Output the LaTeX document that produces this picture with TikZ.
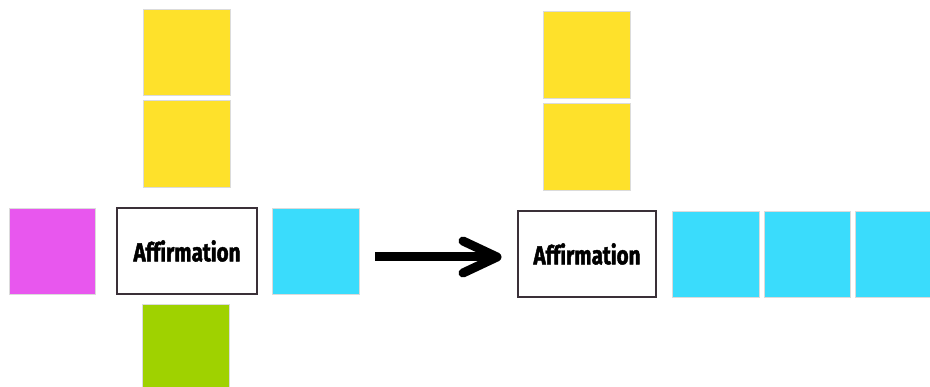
\documentclass[tikz,border=0pt]{standalone}
\usepackage{fontspec}
\newfontfamily\labelfont[FakeStretch=0.79, FakeBold=1.6, Ligatures=NoCommon]{Fira Sans}
\definecolor{stkyellow}{HTML}{FEE12B}
\definecolor{stkmagenta}{HTML}{E857EE}
\definecolor{stkcyan}{HTML}{3ADCFC}
\definecolor{stkgreen}{HTML}{9FD200}
\definecolor{boxedge}{HTML}{3A3038}
\tikzset{
  sticky/.style={draw=black!14, line width=0.7pt, inner sep=0pt, outer sep=0pt, anchor=north west, minimum width=87pt, minimum height=86pt},
  affbox/.style={draw=boxedge, line width=1.5pt, fill=white, inner sep=0pt, outer sep=0pt, anchor=north west, minimum height=86pt, font=\labelfont\bfseries\fontsize{26}{26}\selectfont},
  bigarrow/.style={line width=9pt, line join=round}
}
\begin{document}
\begin{tikzpicture}[x=1pt,y=-1pt]
\useasboundingbox (0,0) rectangle (930,387);
\fill[white] (0,0) rectangle (930,387);
% left group
\node[sticky, fill=stkyellow] (yL1) at (143,9) {};
\node[sticky, fill=stkyellow, minimum height=87pt] (yL2) at (143,100) {};
\node[sticky, fill=stkmagenta, minimum width=86pt] (mL) at (9,208) {};
\node[affbox, minimum width=140pt] (boxL) at (117,208) {Affirmation};
\node[sticky, fill=stkcyan] (cL) at (272,208) {};
\node[sticky, fill=stkgreen] (gL) at (142,304) {};
% right group
\node[sticky, fill=stkyellow, minimum height=87pt] (yR1) at (543,11) {};
\node[sticky, fill=stkyellow, minimum height=87pt] (yR2) at (543,103) {};
\node[affbox, minimum width=138pt] (boxR) at (518,211) {Affirmation};
\node[sticky, fill=stkcyan] (cR1) at (672,211) {};
\node[sticky, fill=stkcyan, minimum width=86pt] (cR2) at (764,211) {};
\node[sticky, fill=stkcyan] (cR3) at (855,211) {};
% arrow
\coordinate (tip) at ([xshift=-21pt, yshift=-3pt]boxR.west);
\coordinate (tail) at ([xshift=16pt]cL.east |- tip);
\draw[bigarrow, line cap=butt] (tail) -- ([xshift=-2pt]tip);
\draw[bigarrow, line cap=round] ([xshift=-34pt, yshift=16pt]tip) -- (tip) -- ([xshift=-34pt, yshift=-16pt]tip);
\end{tikzpicture}
\end{document}
